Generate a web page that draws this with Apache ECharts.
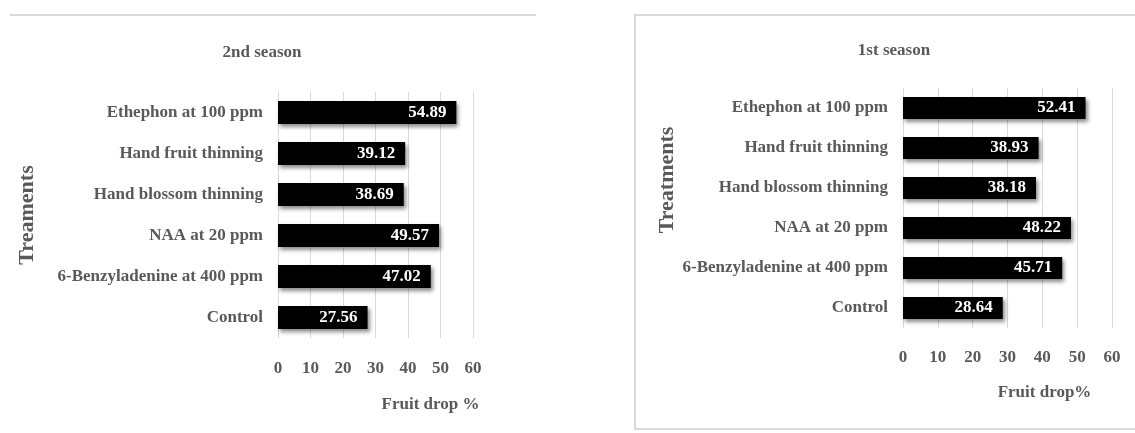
<!DOCTYPE html>
<html>
<head>
<meta charset="utf-8">
<script src="https://cdn.jsdelivr.net/npm/echarts@6/dist/echarts.min.js"></script>
<style>
  html, body { margin: 0; padding: 0; background: #fff; }
  #chart { width: 1135px; height: 433px; }
</style>
</head>
<body>
<div id="chart"></div>
<script>
// treatments, top to bottom as in the figure
const treatments = [
  "Ethephon at 100 ppm",
  "Hand fruit thinning",
  "Hand blossom thinning",
  "NAA at 20 ppm",
  "6-Benzyladenine at 400 ppm",
  "Control"
];
const season2 = [54.89, 39.12, 38.69, 49.57, 47.02, 27.56];
const season1 = [52.41, 38.93, 38.18, 48.22, 45.71, 28.64];
const panelTitles = ["2nd season", "1st season"];
const xNames = ["Fruit drop %", "Fruit drop%"];
const yNames = ["Treaments", "Treatments"];

const gray = "#595959";
const font = "Liberation Serif";

const chart = echarts.init(document.getElementById("chart"));

const grids = [
  { left: 278, top: 92, width: 195, height: 246 },
  { left: 903, top: 88, width: 209, height: 240 }
];

function xAxisFor(i, labelMargin, nameGap, namePad) {
  return {
    type: "value",
    gridIndex: i,
    min: 0,
    max: 60,
    interval: 10,
    axisLine: { show: false },
    axisTick: { show: false },
    splitLine: { lineStyle: { color: "#d9d9d9", width: 1 } },
    axisLabel: { color: gray, fontFamily: font, fontWeight: "bold", fontSize: 17, margin: labelMargin },
    name: xNames[i],
    nameLocation: "middle",
    nameGap: nameGap,
    nameTextStyle: { color: gray, fontFamily: font, fontWeight: "bold", fontSize: 17, padding: [0, 0, 0, namePad] }
  };
}

function yAxisFor(i, nameGap, namePad) {
  return {
    type: "category",
    gridIndex: i,
    data: treatments,
    inverse: true,
    axisLine: { show: false },
    axisTick: { show: false },
    axisLabel: { color: gray, fontFamily: font, fontWeight: "bold", fontSize: 17, margin: 15 },
    name: yNames[i],
    nameLocation: "middle",
    nameRotate: 90,
    nameGap: nameGap,
    nameTextStyle: { color: gray, fontFamily: font, fontWeight: "bold", fontSize: 22, padding: [0, 0, 0, namePad] }
  };
}

function barSeries(i, data, width) {
  return {
    type: "bar",
    xAxisIndex: i,
    yAxisIndex: i,
    data: data,
    barWidth: width,
    itemStyle: {
      color: "#000",
      shadowColor: "rgba(0,0,0,0.45)",
      shadowBlur: 4,
      shadowOffsetX: 2,
      shadowOffsetY: 3
    },
    label: {
      show: true,
      position: "insideRight",
      distance: 10,
      color: "#fff",
      fontFamily: font,
      fontWeight: "bold",
      fontSize: 17,
      formatter: (p) => p.value.toFixed(2)
    }
  };
}

const option = {
  animation: false,
  title: [
    {
      text: panelTitles[0],
      left: 257,
      top: 39,
      textAlign: "center",
      textStyle: { color: gray, fontFamily: font, fontWeight: "bold", fontSize: 17 }
    },
    {
      text: panelTitles[1],
      left: 889,
      top: 37,
      textAlign: "center",
      textStyle: { color: gray, fontFamily: font, fontWeight: "bold", fontSize: 17 }
    }
  ],
  grid: grids,
  xAxis: [xAxisFor(0, 22, 58, 110), xAxisFor(1, 21, 56, 74)],
  yAxis: [yAxisFor(0, 240, 0), yAxisFor(1, 225, 56)],
  series: [barSeries(0, season2, 23), barSeries(1, season1, 22)],
  graphic: [
    {
      type: "line",
      shape: { x1: 10, y1: 15, x2: 536, y2: 15 },
      style: { stroke: "#d9d9d9", lineWidth: 2 }
    },
    {
      type: "rect",
      shape: { x: 635, y: 15, width: 520, height: 414 },
      style: { stroke: "#d9d9d9", lineWidth: 2, fill: "none" }
    }
  ]
};

chart.setOption(option);
</script>
</body>
</html>
